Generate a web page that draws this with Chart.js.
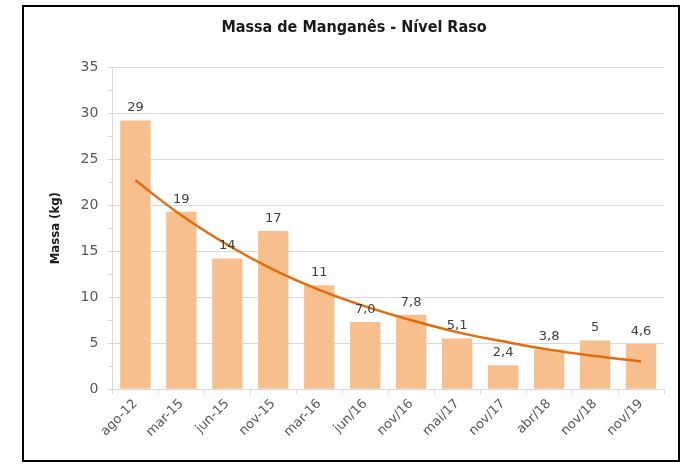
<!DOCTYPE html>
<html>
<head>
<meta charset="utf-8">
<script src="https://cdn.jsdelivr.net/npm/chart.js@4/dist/chart.umd.min.js"></script>
<style>
    body { margin: 0; background: #fff; }
    #box {
        position: absolute;
        left: 22px;
        top: 5px;
        width: 654px;
        height: 453px;
        border: 2px solid #000;
        background: #fff;
    }
</style>
</head>
<body>
<div id="box"><canvas id="myCanvas" width="654" height="453"></canvas></div>
<script>
const categorias = ["ago-12", "mar-15", "jun-15", "nov-15", "mar-16", "jun/16", "nov/16", "mai/17", "nov/17", "abr/18", "nov/18", "nov/19"];
const massas = [29.2, 19.3, 14.2, 17.2, 11.3, 7.3, 8.1, 5.5, 2.6, 4.3, 5.3, 4.9];
const rotulos = ["29", "19", "14", "17", "11", "7,0", "7,8", "5,1", "2,4", "3,8", "5", "4,6"];
const tendencia = [22.7, 18.9, 15.7, 13.0, 10.8, 9.0, 7.5, 6.2, 5.2, 4.3, 3.6, 3.0];

// rótulos de valor acima das barras
const rotulosBarras = {
    id: "rotulosBarras",
    afterDatasetsDraw(chart) {
        const ctx = chart.ctx;
        const meta = chart.getDatasetMeta(1);
        ctx.save();
        ctx.font = "13px 'DejaVu Sans'";
        ctx.fillStyle = "#404040";
        ctx.textAlign = "center";
        ctx.textBaseline = "bottom";
        meta.data.forEach((bar, i) => {
            ctx.fillText(rotulos[i], bar.x, bar.y - 6);
        });
        ctx.restore();
    }
};

const ctx = document.getElementById("myCanvas").getContext("2d");

new Chart(ctx, {
    type: "bar",
    data: {
        labels: categorias,
        datasets: [
            {
                type: "line",
                label: "Tendência",
                data: tendencia,
                borderColor: "#E46C0A",
                borderWidth: 2.5,
                pointRadius: 0,
                tension: 0.4,
                fill: false,
                order: 0
            },
            {
                label: "Massa",
                data: massas,
                backgroundColor: "#F8BF8E",
                barPercentage: 0.66,
                categoryPercentage: 1,
                order: 1
            }
        ]
    },
    options: {
        responsive: false,
        animation: false,
        layout: { padding: { left: 20, right: 14, top: 4, bottom: 18 } },
        plugins: {
            legend: { display: false },
            tooltip: { enabled: false },
            title: {
                display: true,
                text: "Massa de Manganês - Nível Raso",
                color: "#1a1a1a",
                font: { family: "'DejaVu Sans Condensed', 'DejaVu Sans'", size: 16, weight: "bold" },
                padding: { top: 7, bottom: 30 }
            }
        },
        scales: {
            x: {
                grid: { drawOnChartArea: false, color: "#d9d9d9", tickLength: 5 },
                border: { color: "#d9d9d9" },
                ticks: {
                    color: "#595959",
                    font: { family: "'DejaVu Sans'", size: 13 },
                    maxRotation: 45,
                    minRotation: 45,
                    padding: 2
                }
            },
            y: {
                min: 0,
                max: 35,
                title: {
                    display: true,
                    text: "Massa (kg)",
                    color: "#1a1a1a",
                    font: { family: "'DejaVu Sans Condensed', 'DejaVu Sans'", size: 13, weight: "bold" },
                    padding: { bottom: 8 }
                },
                border: { color: "#d9d9d9" },
                grid: {
                    color: (c) => (c.tick && c.tick.value % 5 === 0 ? "#d9d9d9" : "rgba(0,0,0,0)"),
                    tickColor: "#d9d9d9",
                    tickLength: 5
                },
                ticks: {
                    stepSize: 2.5,
                    autoSkip: false,
                    color: "#595959",
                    font: { family: "'DejaVu Sans'", size: 14 },
                    padding: 9,
                    callback: (v) => (v % 5 === 0 ? v : "")
                }
            }
        }
    },
    plugins: [rotulosBarras]
});
</script>
</body>
</html>
